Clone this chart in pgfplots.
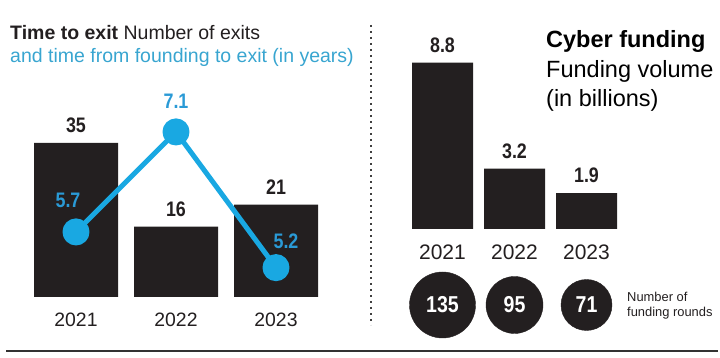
\documentclass[border=0pt]{standalone}
\usepackage{pgfplots}
\pgfplotsset{compat=1.18}
\usepackage{pgfplotstable}
\usepackage{fontspec}
\setmainfont{Liberation Sans}
\newfontfamily\condfont[FakeStretch=0.85]{Liberation Sans}
\definecolor{barblack}{HTML}{231F20}
\definecolor{cyanline}{HTML}{19A8E2}
\definecolor{cyanlabel}{HTML}{2A9AD6}
\definecolor{cyantitle}{HTML}{38A5D0}
\newcommand{\numfont}{\condfont\bfseries\fontsize{21}{24}\selectfont}
\newcommand{\circfont}{\condfont\bfseries\fontsize{23}{26}\selectfont}

\pgfplotstableread{
x y lab
0 35 35
1 16 16
2 21 21
}\exits
\pgfplotstableread{
x y dx dy lab
0 5.7 -8 24 5.7
1 7.1 0 23 7.1
2 5.2 10 19 5.2
}\yearsexit
\pgfplotstableread{
x y lab
0 8.8 8.8
1 3.2 3.2
2 1.9 1.9
}\funding
\pgfplotstableread{
x y r lab
0 0 33 135
1 0 28.5 95
2 0 25.5 71
}\rounds

\begin{document}
\begin{tikzpicture}[x=1pt,y=1pt]

% ---------- left panel: bars ----------
\begin{axis}[at={(26pt,61pt)}, anchor=south west, scale only axis,
  width=300pt, height=264pt, xmin=-0.5, xmax=2.5, ymin=0, ymax=60,
  axis line style={draw=none}, major tick length=0pt, ytick=\empty,
  xtick={0,1,2}, xticklabels={2021,2022,2023},
  xticklabel style={anchor=base, inner sep=0pt, yshift=-30pt,
    font=\fontsize{19.4}{22}\selectfont, text=barblack},
  clip=false]
\addplot[ybar, bar width=84pt, fill=barblack, draw=none,
  nodes near coords, point meta=explicit symbolic,
  nodes near coords style={anchor=base, inner sep=0pt, yshift=10.5pt,
    font=\numfont, text=barblack}]
  table[x=x, y=y, meta=lab] {\exits};
\end{axis}

% ---------- left panel: line ----------
\begin{axis}[at={(26pt,61pt)}, anchor=south west, scale only axis,
  width=300pt, height=264pt, xmin=-0.5, xmax=2.5, ymin=4.789, ymax=8.485,
  hide axis, clip=false]
\addplot[color=cyanline, line width=5pt, line join=round, line cap=round,
  mark=*, mark size=11pt, mark options={fill=cyanline, draw=none},
  nodes near coords, point meta=explicit symbolic,
  visualization depends on={\thisrow{dx}\as\dx},
  visualization depends on={\thisrow{dy}\as\dy},
  nodes near coords style={anchor=base, inner sep=0pt,
    xshift=\dx pt, yshift=\dy pt, font=\numfont, text=cyanlabel}]
  table[x=x, y=y, meta=lab] {\yearsexit};
\end{axis}

% ---------- right panel: bars ----------
\begin{axis}[at={(406.5pt,129pt)}, anchor=south west, scale only axis,
  width=216pt, height=189pt, xmin=-0.5, xmax=2.5, ymin=0, ymax=10,
  axis line style={draw=none}, major tick length=0pt, ytick=\empty,
  xtick={0,1,2}, xticklabels={2021,2022,2023},
  xticklabel style={anchor=base, inner sep=0pt, yshift=-31pt,
    font=\fontsize{21}{24}\selectfont, text=barblack},
  clip=false]
\addplot[ybar, bar width=61pt, fill=barblack, draw=none,
  nodes near coords, point meta=explicit symbolic,
  nodes near coords style={anchor=base, inner sep=0pt, yshift=10.5pt,
    font=\numfont, text=barblack}]
  table[x=x, y=y, meta=lab] {\funding};
\end{axis}

% ---------- right panel: funding rounds circles ----------
\begin{axis}[at={(406.5pt,53pt)}, anchor=west, scale only axis,
  width=216pt, height=100pt, xmin=-0.5, xmax=2.5, ymin=-1, ymax=1,
  hide axis, clip=false]
\addplot[scatter, only marks, mark=*,
  point meta=\thisrow{r},
  scatter/use mapped color={draw=barblack, fill=barblack},
  visualization depends on={\thisrow{r}\as\rad},
  scatter/@pre marker code/.append style={/tikz/mark size=\rad pt}]
  table[x=x, y=y] {\rounds};
\addplot[draw=none, mark=none,
  nodes near coords, point meta=explicit symbolic,
  nodes near coords style={anchor=center, inner sep=0pt,
    font=\circfont, text=white}]
  table[x=x, y=y, meta=lab] {\rounds};
\end{axis}

% ---------- titles and notes ----------
\node[anchor=base west, inner sep=0pt, font=\fontsize{19.5}{22}\selectfont, text=barblack]
  at (10,318) {\textbf{Time to exit} Number of exits};
\node[anchor=base west, inner sep=0pt, font=\fontsize{19.5}{22}\selectfont, text=cyantitle]
  at (10,295) {and time from founding to exit (in years)};

\node[anchor=base west, inner sep=0pt, font=\bfseries\fontsize{23.5}{27}\selectfont, text=black]
  at (546,310) {Cyber funding};
\node[anchor=base west, inner sep=0pt, font=\fontsize{23.5}{27}\selectfont, text=black]
  at (546,280) {Funding volume};
\node[anchor=base west, inner sep=0pt, font=\fontsize{23.5}{27}\selectfont, text=black]
  at (546,251) {(in billions)};

\node[anchor=base west, inner sep=0pt, font=\fontsize{12.9}{15}\selectfont, text=barblack]
  at (627,56) {Number of};
\node[anchor=base west, inner sep=0pt, font=\fontsize{12.9}{15}\selectfont, text=barblack]
  at (627,41) {funding rounds};

% separators
\draw[line width=2.2pt, dash pattern=on 2.2pt off 3.8pt, color=black!75] (371,333) -- (371,33);
\draw[line width=2pt, color=black!80] (6,7) -- (718,7);

\pgfresetboundingbox
\path[use as bounding box] (0,0) rectangle (720,358);
\end{tikzpicture}
\end{document}
